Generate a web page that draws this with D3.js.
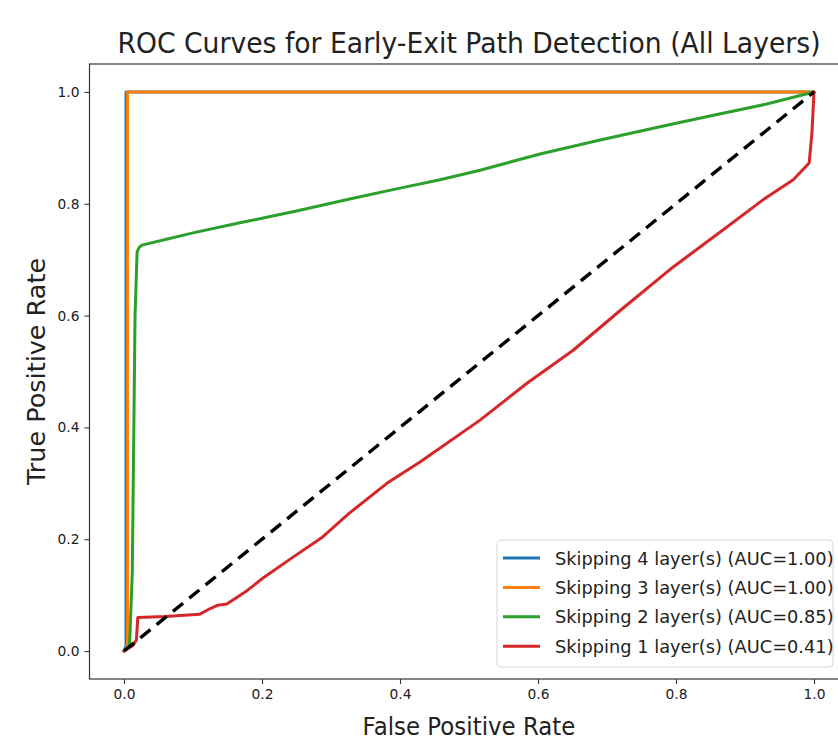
<!DOCTYPE html>
<html>
<head>
<meta charset="utf-8">
<script src="https://cdn.jsdelivr.net/npm/d3@7"></script>
<style>
  html, body { margin: 0; padding: 0; background: #fff; }
  svg { display: block; font-family: "DejaVu Sans", sans-serif; }
</style>
</head>
<body>
<svg id="chart" width="838" height="755"></svg>
<script>
// ROC curve data: false positive rate / true positive rate per skipped-layer count
const fpr4 = [0, 0.003, 0.003, 1.0];
const tpr4 = [0, 0.01, 1.0, 1.0];

const fpr3 = [0, 0.005, 0.005, 1.0];
const tpr3 = [0, 0.01, 1.0, 1.0];

const fpr2 = [0, 0.008, 0.012, 0.016, 0.019, 0.022, 0.026, 0.06, 0.1, 0.168, 0.2, 0.25, 0.332, 0.4, 0.458, 0.516, 0.603, 0.69, 0.8, 0.868, 0.93, 1.0];
const tpr2 = [0, 0.01, 0.14, 0.6, 0.714, 0.722, 0.726, 0.736, 0.748, 0.766, 0.774, 0.787, 0.81, 0.828, 0.843, 0.86, 0.889, 0.914, 0.944, 0.962, 0.978, 1.0];

const fpr1 = [0, 0.013, 0.018, 0.02, 0.06, 0.11, 0.125, 0.136, 0.149, 0.175, 0.202, 0.245, 0.288, 0.327, 0.381, 0.429, 0.516, 0.584, 0.651, 0.72, 0.796, 0.868, 0.926, 0.97, 0.993, 0.997, 1.0];
const tpr1 = [0, 0.01, 0.02, 0.06, 0.062, 0.066, 0.076, 0.082, 0.084, 0.105, 0.131, 0.168, 0.204, 0.247, 0.300, 0.338, 0.413, 0.479, 0.538, 0.61, 0.687, 0.753, 0.807, 0.843, 0.873, 0.927, 1.0];

const seriesLabels = [
  "Skipping 4 layer(s) (AUC=1.00)",
  "Skipping 3 layer(s) (AUC=1.00)",
  "Skipping 2 layer(s) (AUC=0.85)",
  "Skipping 1 layer(s) (AUC=0.41)"
];
const seriesColors = ["#1f77b4", "#ff7f0e", "#2ca02c", "#d62728"];
const chanceLine = [0, 1];
const tickValues = [0, 0.2, 0.4, 0.6, 0.8, 1.0];

const series = [
  { fpr: fpr4, tpr: tpr4 },
  { fpr: fpr3, tpr: tpr3 },
  { fpr: fpr2, tpr: tpr2 },
  { fpr: fpr1, tpr: tpr1 }
].map((s, i) => ({
  label: seriesLabels[i],
  color: seriesColors[i],
  points: s.fpr.map((f, j) => [f, s.tpr[j]])
}));

const svg = d3.select("#chart");
const plot = { left: 89.5, right: 848.5, top: 64, bottom: 679 };

const x = d3.scaleLinear().domain([-0.05, 1.05]).range([plot.left, plot.right]);
const y = d3.scaleLinear().domain([-0.05, 1.05]).range([plot.bottom, plot.top]);

// Axes
const xAxis = d3.axisBottom(x).tickValues(tickValues).tickFormat(d3.format(".1f")).tickSize(5).tickPadding(5);
const yAxis = d3.axisLeft(y).tickValues(tickValues).tickFormat(d3.format(".1f")).tickSize(5).tickPadding(5);

const gx = svg.append("g").attr("transform", `translate(0,${plot.bottom})`).call(xAxis);
const gy = svg.append("g").attr("transform", `translate(${plot.left},0)`).call(yAxis);
[gx, gy].forEach(g => {
  g.select(".domain").remove();
  g.selectAll(".tick line").attr("stroke", "#333").attr("stroke-width", 1.1);
  g.selectAll(".tick text").attr("fill", "#222").style("font-size", "13.8px").style("font-family", "DejaVu Sans, sans-serif");
});

// Curves
const line = d3.line().x(d => x(d[0])).y(d => y(d[1]));
const curves = svg.append("g");

series.forEach(s => {
  curves.append("path")
    .datum(s.points)
    .attr("d", line)
    .attr("fill", "none")
    .attr("stroke", s.color)
    .attr("stroke-width", 3)
    .attr("stroke-linejoin", "round")
    .attr("stroke-linecap", "round");
});

// Chance diagonal
curves.append("path")
  .datum(chanceLine.map(v => [v, v]))
  .attr("d", line)
  .attr("fill", "none")
  .attr("stroke", "#000")
  .attr("stroke-width", 3.4)
  .attr("stroke-dasharray", "13,8");

// Frame
svg.append("rect")
  .attr("x", plot.left).attr("y", plot.top)
  .attr("width", plot.right - plot.left).attr("height", plot.bottom - plot.top)
  .attr("fill", "none").attr("stroke", "#333").attr("stroke-width", 1.2);

// Title and axis labels (slightly condensed horizontally)
svg.append("text")
  .attr("transform", `translate(${(plot.left + plot.right) / 2},53) scale(0.935,1)`)
  .attr("text-anchor", "middle")
  .style("font-size", "28.5px").attr("fill", "#222")
  .text("ROC Curves for Early-Exit Path Detection (All Layers)");

svg.append("text")
  .attr("transform", `translate(${(plot.left + plot.right) / 2},735) scale(0.935,1)`)
  .attr("text-anchor", "middle")
  .style("font-size", "24.5px").attr("fill", "#222")
  .text("False Positive Rate");

svg.append("text")
  .attr("transform", `translate(45,${(plot.top + plot.bottom) / 2}) rotate(-90)`)
  .attr("text-anchor", "middle")
  .style("font-size", "25.5px").attr("fill", "#222")
  .text("True Positive Rate");

// Legend (lower right)
const legend = { right: 833, bottom: 667, left: 497, rowH: 29.4 };
const lg = svg.append("g");
lg.append("rect")
  .attr("x", legend.left).attr("y", legend.bottom - 127)
  .attr("width", legend.right - legend.left).attr("height", 127)
  .attr("rx", 4).attr("ry", 4)
  .attr("fill", "#fff").attr("fill-opacity", 0.85)
  .attr("stroke", "#d6d6d6").attr("stroke-width", 1);

series.forEach((s, i) => {
  const cy = 558 + i * legend.rowH;
  lg.append("line")
    .attr("x1", 503).attr("x2", 540).attr("y1", cy).attr("y2", cy)
    .attr("stroke", s.color).attr("stroke-width", 3);
  lg.append("text")
    .attr("x", 555).attr("y", cy + 6.5)
    .style("font-size", "17.8px").attr("fill", "#222")
    .text(s.label);
});
</script>
</body>
</html>
